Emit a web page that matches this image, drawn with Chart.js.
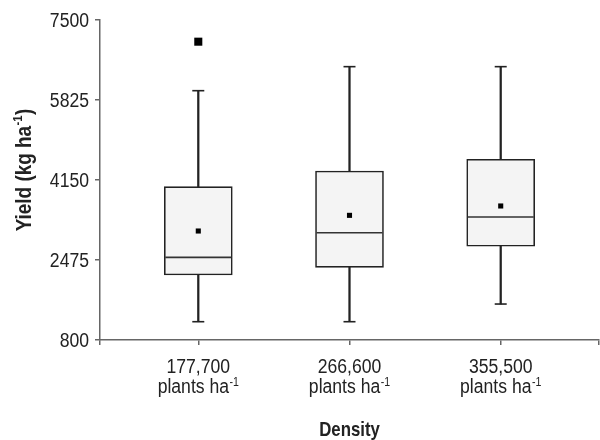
<!DOCTYPE html>
<html><head><meta charset="utf-8">
<script src="https://cdn.jsdelivr.net/npm/chart.js@4/dist/chart.umd.min.js"></script>
<style>html,body{margin:0;padding:0;background:#fff}#wrap{width:600px;height:440px}</style>
</head><body><div id="wrap"><canvas id="c" width="600" height="440"></canvas></div>
<script>
const categories = ['177,700', '266,600', '355,500'];
const unitLabel = 'plants ha';
const unitSup = '-1';
const whiskerLow = [1183, 1183, 1553];
const q1 = [2161, 2322, 2762];
const median = [2531, 3047, 3375];
const q3 = [4010, 4338, 4583];
const whiskerHigh = [6020, 6523, 6523];
const means = [3082, 3410, 3606];
const outliers = [[7046], [], []];
const yTicks = [800, 2475, 4150, 5825, 7500];
const xTitle = 'Density';
const yTitle = 'Yield (kg ha';
const yTitleSup = '-1';
const yTitleEnd = ')';

const FONT = "'Liberation Sans', Arial, sans-serif";
const DARK = '#222222';
const AXIS = '#666666';
const NARROW = 0.88;

const pos = categories.map((c, i) => i + 1);

function narrowText(ctx, text, x, y, size, bold, align, sx) {
  ctx.save();
  ctx.font = (bold ? 'bold ' : '') + size + 'px ' + FONT;
  const w = ctx.measureText(text).width * sx;
  let left = x;
  if (align === 'center') left = x - w / 2;
  else if (align === 'right') left = x - w;
  ctx.translate(left, y);
  ctx.scale(sx, 1);
  ctx.textAlign = 'left';
  ctx.fillText(text, 0, 0);
  ctx.restore();
  return w;
}
function measureNarrow(ctx, text, size, bold, sx) {
  ctx.save();
  ctx.font = (bold ? 'bold ' : '') + size + 'px ' + FONT;
  const w = ctx.measureText(text).width * sx;
  ctx.restore();
  return w;
}

const labelPlugin = {
  id: 'labels',
  afterDraw(chart) {
    const ctx = chart.ctx;
    const xs = chart.scales.x, ys = chart.scales.y;
    ctx.save();
    ctx.fillStyle = DARK;
    ctx.textBaseline = 'alphabetic';
    yTicks.forEach(v => {
      const py = ys.getPixelForValue(v);
      narrowText(ctx, String(v), 89, py + 7, 20, false, 'right', NARROW);
    });
    categories.forEach((c, i) => {
      const px = xs.getPixelForValue(pos[i]);
      narrowText(ctx, c, px, 373, 20, false, 'center', NARROW);
      const w1 = measureNarrow(ctx, unitLabel, 20, false, NARROW);
      const w2 = measureNarrow(ctx, unitSup, 12, false, NARROW);
      const start = px - (w1 + w2 + 0.5) / 2;
      narrowText(ctx, unitLabel, start, 393, 20, false, 'left', NARROW);
      narrowText(ctx, unitSup, start + w1 + 0.5, 386, 12, false, 'left', NARROW);
    });
    narrowText(ctx, xTitle, (chart.chartArea.left + chart.chartArea.right) / 2, 436, 21, true, 'center', 0.8);
    ctx.translate(31, 170);
    ctx.rotate(-Math.PI / 2);
    const S = 22, SS = 13, SX = 0.86;
    const a = measureNarrow(ctx, yTitle, S, true, SX);
    const b = measureNarrow(ctx, yTitleSup, SS, true, SX);
    const c = measureNarrow(ctx, yTitleEnd, S, true, SX);
    const x0 = -(a + b + c + 1) / 2;
    narrowText(ctx, yTitle, x0, 0, S, true, 'left', SX);
    narrowText(ctx, yTitleSup, x0 + a + 0.5, -9, SS, true, 'left', SX);
    narrowText(ctx, yTitleEnd, x0 + a + b + 1, 0, S, true, 'left', SX);
    ctx.restore();
  }
};

const outlierPts = [];
outliers.forEach((arr, i) => arr.forEach(v => outlierPts.push({ x: pos[i], y: v })));

new Chart(document.getElementById('c'), {
  type: 'bar',
  data: {
    datasets: [
      {
        label: 'whisker',
        data: pos.map((p, i) => ({ x: p, y: [whiskerLow[i], whiskerHigh[i]] })),
        backgroundColor: DARK,
        barThickness: 1.6,
        grouped: false,
        order: 10
      },
      {
        label: 'box',
        data: pos.map((p, i) => ({ x: p, y: [q1[i], q3[i]] })),
        backgroundColor: '#f4f4f4',
        borderColor: DARK,
        borderWidth: 1.6,
        borderSkipped: false,
        barThickness: 68,
        grouped: false,
        order: 5
      },
      {
        type: 'line', label: 'median', showLine: false,
        data: pos.map((p, i) => ({ x: p, y: median[i] })),
        pointStyle: 'line', pointRadius: 33, borderColor: '#333', borderWidth: 1.6,
        order: 1
      },
      {
        type: 'line', label: 'caps', showLine: false,
        data: pos.map((p, i) => ({ x: p, y: whiskerLow[i] })).concat(pos.map((p, i) => ({ x: p, y: whiskerHigh[i] }))),
        pointStyle: 'line', pointRadius: 6, borderColor: DARK, borderWidth: 1.6,
        order: 1
      },
      {
        type: 'line', label: 'mean', showLine: false,
        data: pos.map((p, i) => ({ x: p, y: means[i] })),
        pointStyle: 'rect', pointRadius: 3.6, backgroundColor: '#000', borderColor: '#000', borderWidth: 0,
        order: 0
      },
      {
        type: 'line', label: 'outlier', showLine: false,
        data: outlierPts,
        pointStyle: 'rect', pointRadius: 5.7, backgroundColor: '#000', borderColor: '#000', borderWidth: 0,
        order: 0
      }
    ]
  },
  options: {
    responsive: false,
    devicePixelRatio: 1,
    animation: false,
    events: [],
    layout: { autoPadding: false, padding: { top: 20, right: 1, left: 0, bottom: 0 } },
    plugins: { legend: { display: false }, tooltip: { enabled: false } },
    scales: {
      x: {
        type: 'linear', min: 0.35, max: 3.65, offset: false,
        afterBuildTicks: s => { s.ticks = [0.35, 1, 2, 3, 3.65].map(v => ({ value: v })); },
        afterFit: s => { s.height = 100; },
        ticks: { display: false },
        grid: { offset: false, drawOnChartArea: false, drawTicks: true, tickLength: 5, color: AXIS, lineWidth: 1.5 },
        border: { display: true, color: AXIS, width: 1.5 }
      },
      y: {
        min: 800, max: 7500,
        afterBuildTicks: s => { s.ticks = yTicks.map(v => ({ value: v })); },
        afterFit: s => { s.width = 100; },
        ticks: { display: false },
        grid: { drawOnChartArea: false, drawTicks: true, tickLength: 5, color: AXIS, lineWidth: 1.5 },
        border: { display: true, color: AXIS, width: 1.5 }
      }
    }
  },
  plugins: [labelPlugin]
});
</script></body></html>
